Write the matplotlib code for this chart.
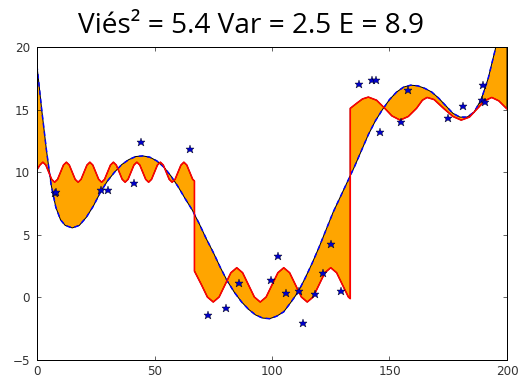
#Bias/variance picture: true curve (blue), model (red), gap filled orange
import numpy as np
import matplotlib.pyplot as plt

# true function
x_true = [0, 2, 4, 6, 8, 10, 12, 15, 18, 21, 24, 27, 30, 33, 36, 39, 42, 45, 48, 51,
          54, 57, 60, 63, 66, 69, 72, 75, 78, 81, 84, 87, 90, 93, 96, 99, 102, 105,
          108, 111, 114, 117, 120, 123, 126, 129, 132, 135, 138, 141, 144, 147, 150,
          153, 156, 159, 162, 165, 168, 171, 174, 177, 180, 183, 186, 189, 192, 195,
          198, 200]
y_true = [18.5, 15.0, 11.8, 9.0, 7.2, 6.2, 5.75, 5.55, 5.75, 6.4, 7.3, 8.4, 9.3, 10.0,
          10.6, 11.0, 11.25, 11.3, 11.2, 10.9, 10.4, 9.7, 8.85, 7.9, 7.0, 5.9, 4.7, 3.6,
          2.4, 1.3, 0.4, -0.35, -0.95, -1.4, -1.65, -1.7, -1.5, -1.15, -0.4, 0.4, 1.5,
          2.7, 4.0, 5.4, 6.8, 8.0, 9.2, 10.4, 11.7, 13.0, 14.1, 15.0, 15.8, 16.4, 16.8,
          16.95, 16.9, 16.7, 16.4, 15.9, 15.3, 14.7, 14.4, 14.4, 14.8, 15.8, 17.5, 19.8,
          22.5, 24.5]

# model, first third (one value every 1.25)
x_fit1 = list(np.arange(0, 67, 1.25)) + [67]
y_fit1 = [10.2, 10.57, 10.8, 10.57, 10.0, 9.43, 9.2, 9.43,
          10.0, 10.57, 10.8, 10.57, 10.0, 9.43, 9.2, 9.43,
          10.0, 10.57, 10.8, 10.57, 10.0, 9.43, 9.2, 9.43,
          10.0, 10.57, 10.8, 10.57, 10.0, 9.43, 9.2, 9.43,
          10.0, 10.57, 10.8, 10.57, 10.0, 9.43, 9.2, 9.43,
          10.0, 10.57, 10.8, 10.57, 10.0, 9.43, 9.2, 9.43,
          10.0, 10.57, 10.8, 10.57, 10.0, 9.43, 9.3]

# model, middle third
x_fit2 = [67, 70, 72.5, 75, 77.5, 80, 82.5, 85, 87.5, 90, 92.5, 95, 97.5, 100, 102.5,
          105, 107.5, 110, 112.5, 115, 117.5, 120, 122.5, 125, 127.5, 130, 132.5, 133.3]
y_fit2 = [2.1, 1.0, 0.03, -0.37, 0.03, 1.0, 1.97, 2.37, 1.97, 1.0, 0.03, -0.37, 0.03,
          1.0, 1.97, 2.37, 1.97, 1.0, 0.03, -0.37, 0.03, 1.0, 1.97, 2.37, 1.97, 1.0,
          0.03, -0.1]

# model, last third
x_fit3 = [133.3, 136, 138.5, 141, 144.5, 148, 151, 154.5, 158, 161.5, 164, 166, 169,
          173, 177, 180.5, 184, 187.5, 190.5, 193.5, 196.5, 200]
y_fit3 = [15.1, 15.5, 15.85, 16.0, 15.75, 15.1, 14.5, 14.16, 14.45, 15.1, 15.75, 15.97,
          15.8, 15.1, 14.45, 14.16, 14.4, 15.1, 15.7, 15.97, 15.7, 15.05]

# noisy samples
x_pts = [7.7, 7.9, 27.1, 30.1, 41.3, 44.3, 65.1, 72.9, 80.3, 86.1, 99.4, 102.7, 106,
         111.6, 113.1, 118.3, 121.6, 125.1, 129.2, 137, 142.4, 144.1, 146, 154.7,
         157.7, 175, 181.1, 189.2, 189.6, 190.5]
y_pts = [8.3, 8.4, 8.56, 8.56, 9.15, 12.4, 11.84, -1.38, -0.83, 1.17, 1.41, 3.28, 0.35,
         0.48, -2.05, 0.24, 1.95, 4.3, 0.51, 17.04, 17.36, 17.36, 13.2, 14.0, 16.56,
         14.3, 15.3, 15.76, 16.96, 15.6]

title = "Viés² = 5.4 Var = 2.5 E = 8.9"

x_fit = np.array(x_fit1 + x_fit2 + x_fit3)
y_fit = np.array(y_fit1 + y_fit2 + y_fit3)
x_true = np.array(x_true)
y_true = np.array(y_true)

fig = plt.figure(figsize=(518/72, 378/72), dpi=72, facecolor="white")
ax = fig.add_axes([37/518, 1 - 360/378, 470/518, 313/378])

# area between the two curves
ax.fill(np.concatenate([x_true, x_fit[::-1]]), np.concatenate([y_true, y_fit[::-1]]),
        facecolor="orange", edgecolor="k", linewidth=1)
ax.plot(x_true, y_true, "b--", linewidth=1.5, dashes=(3, 2.5))
ax.plot(x_fit, y_fit, "r-", linewidth=1.6)
ax.plot(x_pts, y_pts, "*", color="#0000cc", markeredgecolor="k", markeredgewidth=0.4,
        markersize=9)

ax.set_xlim(0, 200)
ax.set_ylim(-5, 20)
ax.set_xticks([0, 50, 100, 150, 200])
ax.set_yticks([-5, 0, 5, 10, 15, 20])
ax.tick_params(direction="in", top=True, right=True, length=4, width=0.6,
               labelsize=12, labelcolor="#333333")
ax.tick_params(axis="y", pad=7)
ax.tick_params(axis="x", pad=5)
for s in ax.spines.values():
    s.set_linewidth(1)

fig.text(251/518, 1 - 33/378, title, ha="center", va="baseline",
         fontsize=28, family="Open Sans")

fig.savefig("out.png", dpi=72, facecolor="white")
